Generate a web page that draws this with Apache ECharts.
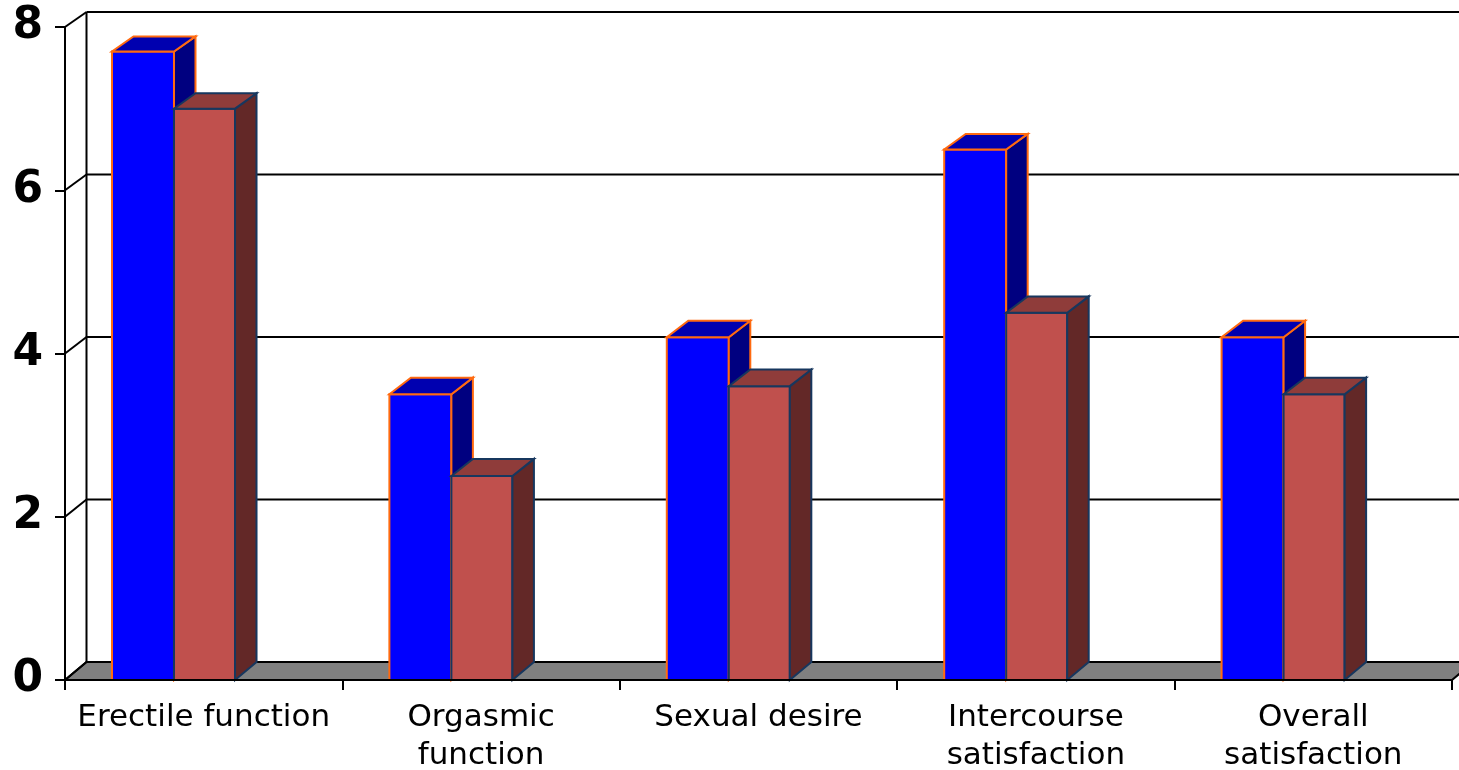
<!DOCTYPE html>
<html>
<head>
<meta charset="utf-8">
<script src="https://cdn.jsdelivr.net/npm/echarts@6/dist/echarts.min.js"></script>
<style>
  html, body { margin: 0; padding: 0; background: #ffffff; }
  #chart { width: 1459px; height: 770px; }
</style>
</head>
<body>
<div id="chart"></div>
<script>
// ---- data ----
const categories = ['Erectile function', 'Orgasmic\nfunction', 'Sexual desire', 'Intercourse\nsatisfaction', 'Overall\nsatisfaction'];
const seriesBlue = [7.7, 3.5, 4.2, 6.5, 4.2];
const seriesRed = [7.0, 2.5, 3.6, 4.5, 3.5];
const yTicks = [0, 2, 4, 6, 8];

// ---- 3D depth helper (style only) ----
function depthAt(y, cs) {
  const t = (y - cs.y) / cs.height;
  return { dx: 21.5, dy: -(15 + 3 * t) };
}

const barStyles = [
  { front: '#0000FF', top: '#0000B0', side: '#000080', stroke: '#FF6A10', start: 0.1694, width: 0.2235 },
  { front: '#C0504D', top: '#8F3C3A', side: '#632827', stroke: '#17375E', start: 0.3929, width: 0.2200 }
];

function makeBarRenderer(style) {
  return function (params, api) {
    const cs = params.coordSys;
    const idx = api.value(0);
    const val = api.value(1);
    const base = api.coord([idx, 0]);
    const topPt = api.coord([idx, val]);
    const bw = api.size([1, 0])[0];
    const x0 = base[0] - bw / 2 + bw * style.start;
    const x1 = x0 + bw * style.width;
    const yb = base[1];
    const yt = topPt[1];
    const dT = depthAt(yt, cs);
    const dB = depthAt(yb, cs);
    const lw = 2;
    return {
      type: 'group',
      children: [
        { type: 'polygon', shape: { points: [[x0, yb], [x1, yb], [x1, yt], [x0, yt]] },
          style: { fill: style.front, stroke: style.stroke, lineWidth: lw, lineJoin: 'miter' } },
        { type: 'polygon', shape: { points: [[x1, yb], [x1 + dB.dx, yb + dB.dy], [x1 + dT.dx, yt + dT.dy], [x1, yt]] },
          style: { fill: style.side, stroke: style.stroke, lineWidth: lw, lineJoin: 'miter' } },
        { type: 'polygon', shape: { points: [[x0, yt], [x1, yt], [x1 + dT.dx, yt + dT.dy], [x0 + dT.dx, yt + dT.dy]] },
          style: { fill: style.top, stroke: style.stroke, lineWidth: lw, lineJoin: 'miter' } }
      ]
    };
  };
}

function frameRenderer(params, api) {
  const cs = params.coordSys;
  const v = api.value(0);
  const y = api.coord([0, v])[1];
  const d = depthAt(y, cs);
  const xl = cs.x, xr = cs.x + cs.width;
  const children = [];
  if (v === yTicks[0]) {
    children.push({ type: 'polygon', shape: { points: [[xl, y], [xr, y], [xr + d.dx, y + d.dy], [xl + d.dx, y + d.dy]] },
      style: { fill: '#808080', stroke: '#000000', lineWidth: 2 } });
    const yTop = api.coord([0, yTicks[yTicks.length - 1]])[1];
    const dTop = depthAt(yTop, cs);
    children.push({ type: 'line', shape: { x1: xl + d.dx, y1: y + d.dy, x2: xl + dTop.dx, y2: yTop + dTop.dy },
      style: { stroke: '#000000', lineWidth: 2 } });
  } else {
    children.push({ type: 'line', shape: { x1: xl + d.dx, y1: y + d.dy, x2: xr + d.dx + 40, y2: y + d.dy },
      style: { stroke: '#000000', lineWidth: 2 } });
  }
  children.push({ type: 'line', shape: { x1: xl, y1: y, x2: xl + d.dx, y2: y + d.dy },
    style: { stroke: '#000000', lineWidth: 2 } });
  return { type: 'group', children: children };
}

const chart = echarts.init(document.getElementById('chart'), null, { renderer: 'canvas' });
chart.setOption({
  backgroundColor: '#ffffff',
  animation: false,
  grid: { left: 65, right: 7, top: 27, bottom: 90, containLabel: false, outerBoundsMode: 'none' },
  xAxis: {
    type: 'category',
    data: categories,
    boundaryGap: true,
    axisLine: { show: true, lineStyle: { color: '#000000', width: 2 } },
    axisTick: { show: true, length: 10, lineStyle: { color: '#000000', width: 2 } },
    axisLabel: { color: '#000000', fontFamily: 'DejaVu Sans', fontSize: 31, lineHeight: 38, margin: 19, interval: 0, hideOverlap: false },
    z: 5
  },
  yAxis: {
    type: 'value',
    min: 0, max: 8, interval: 2,
    axisLine: { show: true, lineStyle: { color: '#000000', width: 2 } },
    axisTick: { show: true, length: 10, lineStyle: { color: '#000000', width: 2 } },
    axisLabel: { color: '#000000', fontFamily: 'DejaVu Sans', fontWeight: 'bold', fontSize: 44, margin: 22 },
    splitLine: { show: false }
  },
  series: [
    { type: 'custom', name: 'frame', data: yTicks.map(v => [v]), renderItem: frameRenderer, z: 1, silent: true,
      encode: { y: 0 } },
    { type: 'custom', name: 'Series 1', data: seriesBlue.map((v, i) => [i, v]), renderItem: makeBarRenderer(barStyles[0]), z: 3 },
    { type: 'custom', name: 'Series 2', data: seriesRed.map((v, i) => [i, v]), renderItem: makeBarRenderer(barStyles[1]), z: 3 }
  ]
});
</script>
</body>
</html>
